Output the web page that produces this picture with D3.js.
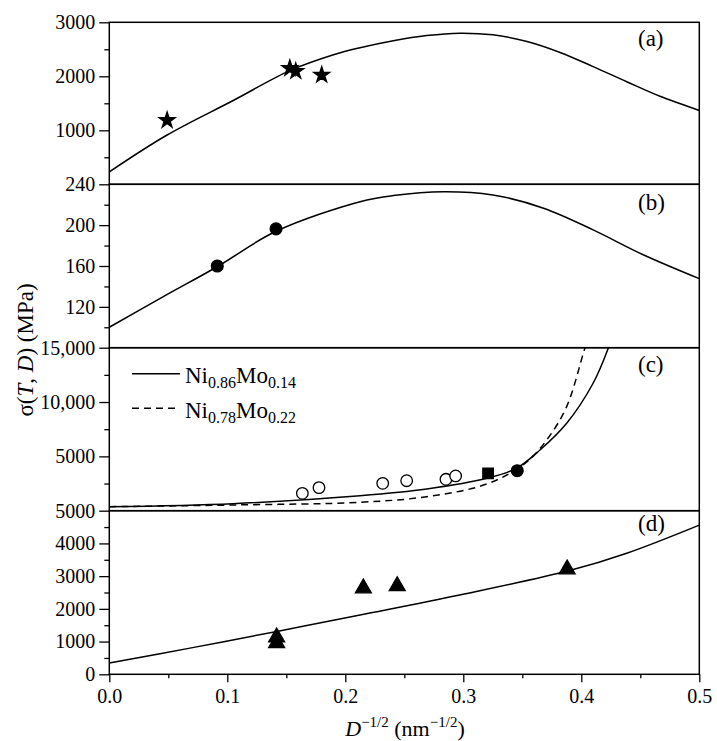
<!DOCTYPE html>
<html>
<head>
<meta charset="utf-8">
<script src="https://cdn.jsdelivr.net/npm/d3@7"></script>
<style>
body { margin: 0; background: #fff; }
svg text { font-family: "Liberation Serif", "Times New Roman", Times, serif; fill: #000; }
</style>
</head>
<body>
<div id="chart"></div>
<script>
const width = 717;
const height = 741;
const serif = "'Liberation Serif', 'Times New Roman', Times, serif";

// shared x axis, D^-1/2 (nm^-1/2)
const xTicks = [0, 0.1, 0.2, 0.3, 0.4, 0.5];
const xMinor = [0.05, 0.15, 0.25, 0.35, 0.45];

// panel (a)
const aFitX = [0, 0.0486, 0.105, 0.153, 0.19, 0.2125, 0.2407, 0.269, 0.297, 0.325, 0.354, 0.382, 0.41, 0.4385, 0.4667, 0.5];
const aFitY = [230, 908, 1552, 2105, 2400, 2530, 2660, 2755, 2799, 2768, 2645, 2442, 2180, 1900, 1630, 1368];
const aStarX = [0.049, 0.153, 0.158, 0.180];
const aStarY = [1184, 2147, 2092, 2025];
const aTicks = [1000, 2000, 3000];
const aMinor = [500, 1500, 2500];

// panel (b)
const bFitX = [0, 0.0458, 0.091, 0.1413, 0.2125, 0.2407, 0.283, 0.325, 0.368, 0.41, 0.4525, 0.5];
const bFitY = [100, 130, 159, 194, 223, 229, 232.8, 229.6, 216.6, 195.4, 171, 147.6];
const bDotX = [0.0915, 0.1413];
const bDotY = [160, 196.4];
const bTicks = [120, 160, 200, 240];
const bMinor = [100, 140, 180, 220];

// panel (c)
const cSolidX = [0, 0.105, 0.2125, 0.269, 0.32, 0.345, 0.365, 0.3876, 0.41, 0.423];
const cSolidY = [370, 650, 1381, 2000, 2980, 3900, 5590, 8050, 11730, 15000];
const cDashX = [0, 0.105, 0.2125, 0.269, 0.32, 0.353, 0.3707, 0.3876, 0.4017, 0.4032];
const cDashY = [370, 525, 773, 1290, 2460, 4420, 6510, 9580, 14490, 15000];
const cOpenX = [0.1636, 0.1777, 0.2317, 0.252, 0.2853, 0.2935];
const cOpenY = [1600, 2120, 2520, 2760, 2890, 3200];
const cSquareX = [0.321];
const cSquareY = [3440];
const cDotX = [0.3457];
const cDotY = [3680];
const cTicks = [5000, 10000, 15000];
const cMinor = [2500, 7500, 12500];
const legendNames = [["Ni", "0.86", "Mo", "0.14"], ["Ni", "0.78", "Mo", "0.22"]];

// panel (d)
const dFitX = [0, 0.0706, 0.141, 0.2125, 0.297, 0.39, 0.4385, 0.5];
const dFitY = [345, 815, 1303, 1813, 2425, 3170, 3700, 4560];
const dTriX = [0.1418, 0.1418, 0.2153, 0.244, 0.388];
const dTriY = [1130, 960, 2630, 2700, 3210];
const dTicks = [0, 1000, 2000, 3000, 4000, 5000];
const dMinor = [500, 1500, 2500, 3500, 4500];

const zip = (xs, ys) => xs.map((x, i) => [x, ys[i]]);

const svg = d3.select("#chart")
    .append("svg")
    .attr("width", width)
    .attr("height", height)
    .attr("font-family", serif);

const xScale = d3.scaleLinear()
    .domain([0, 0.5])
    .range([109.3, 699.3]);

const panels = [
    { name: "(a)", domain: [0, 3000], range: [184.3, 22.3], ticks: aTicks, minor: aMinor, labelY: 46 },
    { name: "(b)", domain: [80, 240], range: [347.7, 184.3], ticks: bTicks, minor: bMinor, labelY: 210 },
    { name: "(c)", domain: [0, 15000], range: [510.7, 347.7], ticks: cTicks, minor: cMinor, labelY: 372 },
    { name: "(d)", domain: [0, 5000], range: [674.3, 510.7], ticks: dTicks, minor: dMinor, labelY: 531 }
];
panels.forEach(p => p.y = d3.scaleLinear().domain(p.domain).range(p.range));

const tickFmt = d => d >= 10000 ? d3.format(",")(d) : String(d);

function tidy(g, size) {
    g.attr("font-family", null).attr("font-size", null);
    g.select(".domain").remove();
    g.selectAll("text")
        .attr("font-family", serif)
        .style("font-family", serif)
        .style("font-size", size + "px");
    g.selectAll("line").attr("stroke-width", 1.3);
}

// y axes of each panel
panels.forEach(p => {
    const g = svg.append("g")
        .attr("transform", `translate(${xScale(0)},0)`)
        .call(d3.axisLeft(p.y).tickValues(p.ticks).tickSize(10).tickPadding(4).tickFormat(tickFmt));
    tidy(g, 20);

    const gm = svg.append("g")
        .attr("transform", `translate(${xScale(0)},0)`)
        .call(d3.axisLeft(p.y).tickValues(p.minor).tickSize(5).tickFormat(""));
    tidy(gm, 20);

    // frame
    svg.append("rect")
        .attr("x", xScale(0))
        .attr("y", p.range[1])
        .attr("width", xScale(0.5) - xScale(0))
        .attr("height", p.range[0] - p.range[1])
        .attr("fill", "none")
        .attr("stroke", "#000")
        .attr("stroke-width", 1.5);

    // panel label
    svg.append("text")
        .attr("x", 638)
        .attr("y", p.labelY)
        .style("font-size", "23px")
        .text(p.name);
});

// x axis
const xg = svg.append("g")
    .attr("transform", `translate(0,${panels[3].range[0]})`)
    .call(d3.axisBottom(xScale).tickValues(xTicks).tickSize(8).tickPadding(6.5).tickFormat(d3.format(".1f")));
tidy(xg, 20);

const xgm = svg.append("g")
    .attr("transform", `translate(0,${panels[3].range[0]})`)
    .call(d3.axisBottom(xScale).tickValues(xMinor).tickSize(4).tickFormat(""));
tidy(xgm, 20);

// clip for panel (c), curves shoot out of the top
svg.append("clipPath")
    .attr("id", "clipC")
    .append("rect")
    .attr("x", xScale(0))
    .attr("y", panels[2].range[1])
    .attr("width", xScale(0.5) - xScale(0))
    .attr("height", panels[2].range[0] - panels[2].range[1]);

function drawLine(p, pts, dash, clip) {
    const line = d3.line()
        .x(d => xScale(d[0]))
        .y(d => p.y(d[1]))
        .curve(d3.curveCatmullRom.alpha(0.5));
    const path = svg.append("path")
        .datum(pts)
        .attr("d", line)
        .attr("fill", "none")
        .attr("stroke", "#000")
        .attr("stroke-width", 1.5);
    if (dash) path.attr("stroke-dasharray", "7,5");
    if (clip) path.attr("clip-path", "url(#clipC)");
}

function drawSymbols(p, pts, type, size, fill) {
    svg.append("g")
        .selectAll("path")
        .data(pts)
        .enter()
        .append("path")
        .attr("transform", d => `translate(${xScale(d[0])},${p.y(d[1])})`)
        .attr("d", d3.symbol().type(type).size(size))
        .attr("fill", fill)
        .attr("stroke", "#000")
        .attr("stroke-width", 1.3);
}

const [pa, pb, pc, pd] = panels;

drawLine(pa, zip(aFitX, aFitY));
drawSymbols(pa, zip(aStarX, aStarY), d3.symbolStar, 80, "#000");

drawLine(pb, zip(bFitX, bFitY));
drawSymbols(pb, zip(bDotX, bDotY), d3.symbolCircle, 110, "#000");

drawLine(pc, zip(cSolidX, cSolidY), false, true);
drawLine(pc, zip(cDashX, cDashY), true, true);
drawSymbols(pc, zip(cOpenX, cOpenY), d3.symbolCircle, 105, "#fff");
drawSymbols(pc, zip(cSquareX, cSquareY), d3.symbolSquare, 110, "#000");
drawSymbols(pc, zip(cDotX, cDotY), d3.symbolCircle, 110, "#000");

drawLine(pd, zip(dFitX, dFitY));
drawSymbols(pd, zip(dTriX, dTriY), d3.symbolTriangle, 110, "#000");

// legend in panel (c)
const legend = svg.selectAll(".legend")
    .data(legendNames)
    .enter()
    .append("g")
    .attr("class", "legend")
    .attr("transform", (d, i) => `translate(0,${373.7 + i * 34.6})`);

legend.append("line")
    .attr("x1", 132)
    .attr("x2", 180)
    .attr("stroke", "#000")
    .attr("stroke-width", 1.5)
    .attr("stroke-dasharray", (d, i) => i ? "7,5" : null);

const lt = legend.append("text")
    .attr("x", 185)
    .attr("y", 9.5)
    .style("font-size", "23px");
lt.append("tspan").text(d => d[0]);
lt.append("tspan").attr("dy", 5).style("font-size", "16px").text(d => d[1]);
lt.append("tspan").attr("dy", -5).text(d => d[2]);
lt.append("tspan").attr("dy", 5).style("font-size", "16px").text(d => d[3]);

// x axis title
const xt = svg.append("text")
    .attr("x", 405)
    .attr("y", 736)
    .attr("text-anchor", "middle")
    .style("font-size", "22px");
xt.append("tspan").style("font-style", "italic").text("D");
xt.append("tspan").attr("dy", -9).style("font-size", "15px").text("\u22121/2");
xt.append("tspan").attr("dy", 9).text(" (nm");
xt.append("tspan").attr("dy", -9).style("font-size", "15px").text("\u22121/2");
xt.append("tspan").attr("dy", 9).text(")");

// y axis title
const yt = svg.append("text")
    .attr("transform", "translate(33,350) rotate(-90)")
    .attr("text-anchor", "middle")
    .style("font-size", "23px");
yt.append("tspan").text("\u03c3(");
yt.append("tspan").style("font-style", "italic").text("T");
yt.append("tspan").text(", ");
yt.append("tspan").style("font-style", "italic").text("D");
yt.append("tspan").text(") (MPa)");
</script>
</body>
</html>
